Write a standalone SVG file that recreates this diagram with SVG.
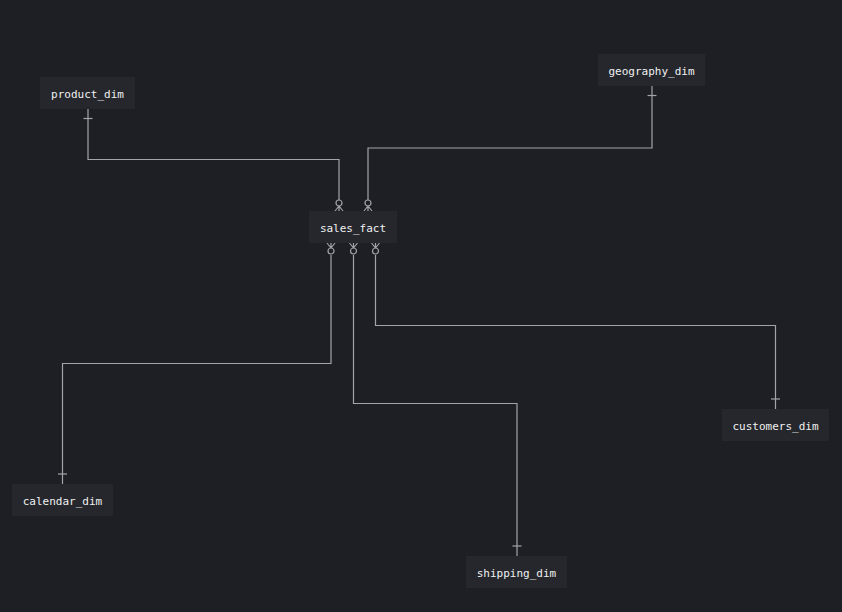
<svg xmlns="http://www.w3.org/2000/svg" width="842" height="612" viewBox="0 0 842 612">
  <style>
    .node rect { fill: #25272d; }
    .node text { fill: #f0f0f0; font-family: "DejaVu Sans Mono", "Liberation Mono", monospace; font-size: 11px; text-anchor: middle; dominant-baseline: central; }
    .edge { fill: none; stroke: #a3a3a8; stroke-width: 1.2; }
    .mk { fill: #1e1f24; stroke: #a3a3a8; stroke-width: 1.2; }
  </style>
  <defs>
    <g id="crow">
      <path class="edge" d="M0,-5 L-4,0 M0,-5 L4,0 M0,-5 L0,0"/>
      <circle class="mk" cx="0" cy="-8" r="3"/>
    </g>
    <path id="tick" class="edge" d="M-4.5,0 L4.5,0"/>
  </defs>
  <rect width="842" height="612" fill="#1e1f24"/>

  <g id="connectors">
    <path class="edge" d="M88,109 V159.5 H339 V200"/>
    <use href="#tick" x="88" y="118.5"/>
    <use href="#crow" x="339" y="211"/>

    <path class="edge" d="M652,86 V148 H368 V200"/>
    <use href="#tick" x="652" y="95.5"/>
    <use href="#crow" x="368" y="211"/>

    <path class="edge" d="M331,255 V363.5 H62.5 V484"/>
    <use href="#crow" transform="translate(331,243) scale(1,-1)"/>
    <use href="#tick" x="62.5" y="474"/>

    <path class="edge" d="M353.5,255 V403.5 H517 V556"/>
    <use href="#crow" transform="translate(353.5,243) scale(1,-1)"/>
    <use href="#tick" x="517" y="546"/>

    <path class="edge" d="M375.5,255 V325.5 H775.5 V409"/>
    <use href="#crow" transform="translate(375.5,243) scale(1,-1)"/>
    <use href="#tick" x="775.5" y="399"/>
  </g>

  <g id="product_dim" class="node">
    <rect x="40" y="77" width="95" height="32"/>
    <text x="87.5" y="94">product_dim</text>
  </g>
  <g id="geography_dim" class="node">
    <rect x="598" y="54" width="107" height="32"/>
    <text x="651.5" y="71">geography_dim</text>
  </g>
  <g id="sales_fact" class="node">
    <rect x="309" y="211" width="88" height="32"/>
    <text x="353" y="228">sales_fact</text>
  </g>
  <g id="calendar_dim" class="node">
    <rect x="12" y="484" width="101" height="32"/>
    <text x="62.5" y="501">calendar_dim</text>
  </g>
  <g id="shipping_dim" class="node">
    <rect x="466" y="556" width="101" height="32"/>
    <text x="516.5" y="573">shipping_dim</text>
  </g>
  <g id="customers_dim" class="node">
    <rect x="722" y="409" width="107" height="32"/>
    <text x="775.5" y="426">customers_dim</text>
  </g>
</svg>
